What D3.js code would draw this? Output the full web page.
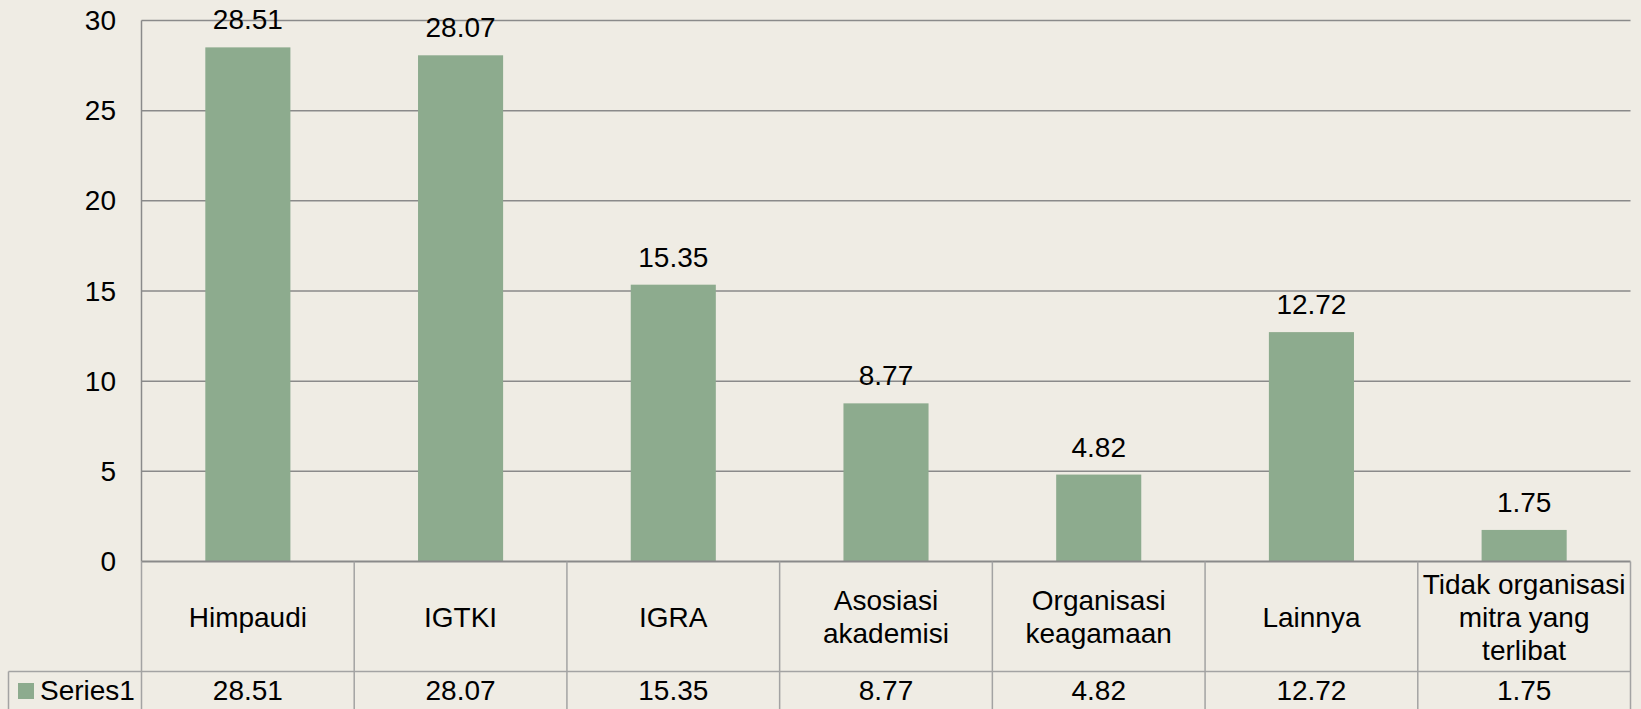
<!DOCTYPE html>
<html>
<head>
<meta charset="utf-8">
<script src="https://cdn.jsdelivr.net/npm/d3@7"></script>
<style>
  html, body { margin: 0; padding: 0; background: #EFECE4; }
  svg { display: block; }
  text { font-family: "Liberation Sans", Arial, sans-serif; fill: #000; }
</style>
</head>
<body>
<svg id="chart" width="1641" height="709"></svg>
<script>
const categories = [
  ["Himpaudi"],
  ["IGTKI"],
  ["IGRA"],
  ["Asosiasi", "akademisi"],
  ["Organisasi", "keagamaan"],
  ["Lainnya"],
  ["Tidak organisasi", "mitra yang", "terlibat"]
];
const seriesName = "Series1";
const values = [28.51, 28.07, 15.35, 8.77, 4.82, 12.72, 1.75];
const yTicks = [0, 5, 10, 15, 20, 25, 30];

(function () {
const W = 1641, H = 709;
const pLeft = 141.5, pRight = 1630.5, pTop = 20.5, pBottom = 561.5;
const catRowBottom = 671.5, tableBottom = 720, legendLeft = 8.5;
const fontSize = 28;
const barColor = "#8DAB8E";
const gridColor = "#8A8A8A";
const tableColor = "#A3A3A3";

const svg = d3.select("#chart");
svg.append("rect").attr("width", W).attr("height", H).attr("fill", "#EFECE4");

const idx = d3.range(categories.length);
const x = d3.scaleBand().domain(idx).range([pLeft, pRight]).paddingInner(0.6).paddingOuter(0.3);
const y = d3.scaleLinear().domain([0, 30]).range([pBottom, pTop]);

// gridlines
svg.append("g").selectAll("line").data(yTicks.filter(t => t > 0)).join("line")
  .attr("x1", pLeft).attr("x2", pRight)
  .attr("y1", d => y(d)).attr("y2", d => y(d))
  .attr("stroke", gridColor).attr("stroke-width", 1.5);

// y axis labels
svg.append("g").selectAll("text").data(yTicks).join("text")
  .attr("x", 116).attr("y", d => y(d) + 9.5)
  .attr("text-anchor", "end")
  .attr("font-size", fontSize).text(d => d);

// bars
svg.append("g").selectAll("rect").data(values).join("rect")
  .attr("x", (d, i) => x(i)).attr("width", x.bandwidth())
  .attr("y", d => y(d)).attr("height", d => y(0) - y(d))
  .attr("fill", barColor);

// data labels
svg.append("g").selectAll("text").data(values).join("text")
  .attr("x", (d, i) => x(i) + x.bandwidth() / 2)
  .attr("y", d => y(d) - 18)
  .attr("text-anchor", "middle").attr("font-size", fontSize)
  .text(d => d.toFixed(2));

// y axis line
svg.append("line").attr("x1", pLeft).attr("x2", pLeft).attr("y1", pTop).attr("y2", pBottom)
  .attr("stroke", gridColor).attr("stroke-width", 1.5);

// data table
const step = x.step();
const colEdges = idx.map(i => pLeft + i * step).concat([pRight]);
const tg = svg.append("g");
tg.append("line").attr("x1", pLeft).attr("x2", pRight).attr("y1", pBottom).attr("y2", pBottom)
  .attr("stroke", gridColor).attr("stroke-width", 2);
tg.append("line").attr("x1", legendLeft).attr("x2", pRight).attr("y1", catRowBottom).attr("y2", catRowBottom)
  .attr("stroke", tableColor).attr("stroke-width", 1.5);
tg.selectAll("line.v").data(colEdges).join("line").attr("class", "v")
  .attr("x1", d => d).attr("x2", d => d).attr("y1", pBottom).attr("y2", tableBottom)
  .attr("stroke", tableColor).attr("stroke-width", 1.5);
tg.append("line").attr("x1", legendLeft).attr("x2", legendLeft).attr("y1", catRowBottom).attr("y2", tableBottom)
  .attr("stroke", tableColor).attr("stroke-width", 1.5);

// category labels
const lineH = 33;
const rowMid = (pBottom + catRowBottom) / 2;
tg.selectAll("text.cat").data(categories).join("text").attr("class", "cat")
  .attr("text-anchor", "middle").attr("font-size", fontSize)
  .each(function (lines, i) {
    const cx = x(i) + x.bandwidth() / 2;
    const y0 = rowMid + 10 - (lines.length - 1) * lineH / 2;
    d3.select(this).selectAll("tspan").data(lines).join("tspan")
      .attr("x", cx).attr("y", (d, j) => y0 + j * lineH).text(d => d);
  });

// values row
tg.selectAll("text.val").data(values).join("text").attr("class", "val")
  .attr("x", (d, i) => x(i) + x.bandwidth() / 2).attr("y", 700)
  .attr("text-anchor", "middle").attr("font-size", fontSize)
  .text(d => d.toFixed(2));

// legend key
tg.append("rect").attr("x", 18).attr("y", 683).attr("width", 16).attr("height", 16).attr("fill", barColor);
tg.append("text").attr("x", 40).attr("y", 700).attr("font-size", fontSize).text(seriesName);
})();
</script>
</body>
</html>
